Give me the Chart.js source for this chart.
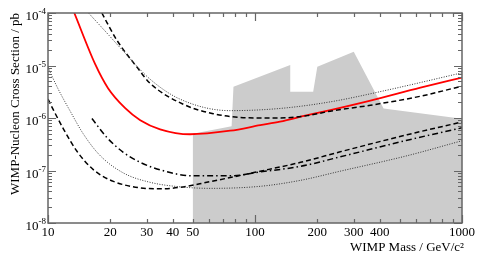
<!DOCTYPE html>
<html>
<head>
<meta charset="utf-8">
<script src="https://cdn.jsdelivr.net/npm/chart.js@4/dist/chart.umd.min.js"></script>
<style>
  html, body { margin: 0; padding: 0; background: #fff; }
</style>
</head>
<body>
<canvas id="chart" width="479" height="258"></canvas>
<script>
// axis ticks
const massTicks = [10, 20, 30, 40, 50, 100, 200, 300, 400, 1000];
const sigmaExps = [-8, -7, -6, -5, -4];

// excluded region (grey)
const greyMass  = [50, 77.1, 78.7, 148, 148, 191, 200, 300, 418, 1000];
const greySigma = [5.0e-7, 7.0e-7, 3.93e-6, 1.02e-5, 3.15e-6, 3.15e-6, 9.45e-6, 1.82e-5, 1.52e-6, 9.7e-7];

// red solid
const redMass  = [13.4, 16.9, 19.5, 23.6, 27.9, 34.8, 48.6, 75.9, 106, 132, 179, 231, 361, 630, 1000];
const redSigma = [1e-4, 1.06e-5, 3.7e-6, 1.54e-6, 9.1e-7, 6.1e-7, 4.9e-7, 5.73e-7, 7.3e-7, 8.5e-7, 1.13e-6, 1.41e-6, 2.14e-6, 3.78e-6, 5.87e-6];

// upper dotted
const dotHiMass  = [15.7, 19.2, 23.1, 31.1, 43.4, 75.9, 132, 231, 435, 1000];
const dotHiSigma = [1e-4, 4.2e-5, 1.88e-5, 5.5e-6, 2.29e-6, 1.38e-6, 1.52e-6, 2.03e-6, 3.4e-6, 7.26e-6];

// upper dashed
const dashHiMass  = [18.2, 21.5, 26.9, 31.1, 45.0, 62.8, 91.6, 132, 179, 231, 361, 630, 1000];
const dashHiSigma = [1e-4, 3.05e-5, 9.3e-6, 4.6e-6, 1.83e-6, 1.21e-6, 1.01e-6, 1.0e-6, 1.11e-6, 1.35e-6, 1.75e-6, 2.6e-6, 4.05e-6];

// dash-dot
const dashDotMass  = [16.3, 19.2, 23.1, 27.9, 34.8, 50.2, 75.9, 106, 166, 258, 543, 1000];
const dashDotSigma = [9.8e-7, 4.3e-7, 2.22e-7, 1.43e-7, 1.03e-7, 7.9e-8, 7.9e-8, 9.4e-8, 1.2e-7, 1.82e-7, 3.77e-7, 6.5e-7];

// lower dashed
const dashLoMass  = [10, 10.6, 11.9, 13.8, 16.6, 20.7, 27.9, 34.8, 43.4, 58.5, 106, 166, 258, 543, 1000];
const dashLoSigma = [2.29e-6, 1.44e-6, 6.1e-7, 2.32e-7, 1.03e-7, 6.2e-8, 4.68e-8, 4.48e-8, 4.78e-8, 5.96e-8, 9.7e-8, 1.43e-7, 2.27e-7, 4.8e-7, 8.4e-7];

// lower dotted
const dotLoMass  = [10, 10.4, 11.2, 12.8, 14.8, 17.8, 23.1, 31.1, 43.4, 60.7, 106, 166, 258, 543, 1000];
const dotLoSigma = [9.3e-6, 6.56e-6, 3.55e-6, 1.35e-6, 5.0e-7, 1.95e-7, 9.0e-8, 5.96e-8, 4.89e-8, 4.57e-8, 5.0e-8, 6.5e-8, 9.7e-8, 1.91e-7, 3.69e-7];

const pts = (xs, ys) => xs.map((x, i) => ({ x: x, y: ys[i] }));

const FONT = '"Liberation Serif", "DejaVu Serif", serif';

function curve(xs, ys, color, width, dash) {
    return {
        data: pts(xs, ys),
        borderColor: color,
        borderWidth: width,
        borderDash: dash,
        fill: false,
        pointRadius: 0,
        tension: 0.4,
        cubicInterpolationMode: 'monotone',
        order: 1
    };
}

// frame, inward ticks, labels and titles
const framePlugin = {
    id: 'frame',
    afterDraw(chart) {
        const ctx = chart.ctx;
        const a = chart.chartArea;
        const xs = chart.scales.x, ys = chart.scales.y;
        ctx.save();
        ctx.strokeStyle = '#666';
        ctx.lineWidth = 1.5;
        ctx.strokeRect(a.left, a.top, a.right - a.left, a.bottom - a.top);

        ctx.lineWidth = 1.2;
        ctx.beginPath();
        for (let k = 1; k <= 3; k++) {
            for (let n = 1; n <= 9; n++) {
                const v = n * Math.pow(10, k);
                if (v > 1000) break;
                const px = Math.round(xs.getPixelForValue(v)) + 0.5;
                const len = n === 1 ? 8 : 4;
                ctx.moveTo(px, a.bottom); ctx.lineTo(px, a.bottom - len);
                ctx.moveTo(px, a.top); ctx.lineTo(px, a.top + len);
            }
        }
        for (let k = -8; k <= -4; k++) {
            for (let n = 1; n <= 9; n++) {
                const v = n * Math.pow(10, k);
                if (v > 1.0001e-4) break;
                const py = Math.round(ys.getPixelForValue(v)) + 0.5;
                const len = n === 1 ? 8 : 4;
                ctx.moveTo(a.left, py); ctx.lineTo(a.left + len, py);
                ctx.moveTo(a.right, py); ctx.lineTo(a.right - len, py);
            }
        }
        ctx.stroke();

        ctx.fillStyle = '#000';
        ctx.font = '13px ' + FONT;
        ctx.textAlign = 'center';
        ctx.textBaseline = 'middle';
        massTicks.forEach(m => {
            ctx.fillText(String(m), xs.getPixelForValue(m), a.bottom + 10);
        });

        sigmaExps.forEach(e => {
            const py = ys.getPixelForValue(Math.pow(10, e));
            const exp = String(e);
            ctx.font = '9px ' + FONT;
            ctx.textAlign = 'right';
            const ew = ctx.measureText(exp).width;
            ctx.fillText(exp, a.left - 2, py - 1);
            ctx.font = '13px ' + FONT;
            ctx.fillText('10', a.left - 2 - ew, py + 4);
        });

        ctx.font = '13px ' + FONT;
        ctx.textAlign = 'right';
        ctx.fillText('WIMP Mass / GeV/c\u00b2', a.right + 2, a.bottom + 25);

        ctx.translate(16, a.top);
        ctx.rotate(-Math.PI / 2);
        ctx.textAlign = 'right';
        ctx.fillText('WIMP-Nucleon Cross Section / pb', 0, 0);
        ctx.restore();
    }
};

new Chart(document.getElementById('chart'), {
    type: 'line',
    data: {
        datasets: [
            {
                data: pts(greyMass, greySigma),
                borderColor: 'rgba(0,0,0,0)',
                backgroundColor: '#cccccc',
                borderWidth: 0,
                fill: 'start',
                pointRadius: 0,
                tension: 0,
                order: 10
            },
            curve(dotLoMass, dotLoSigma, '#333', 1, [1, 1.5]),
            curve(dashLoMass, dashLoSigma, '#000', 1.5, [5, 3]),
            curve(dashDotMass, dashDotSigma, '#000', 1.5, [6, 3, 1.5, 3]),
            curve(dotHiMass, dotHiSigma, '#333', 1, [1, 1.5]),
            curve(dashHiMass, dashHiSigma, '#000', 1.5, [5, 3]),
            curve(redMass, redSigma, '#ff0000', 1.8, [])
        ]
    },
    options: {
        responsive: false,
        animation: false,
        layout: { padding: { left: 48, right: 17, top: 13, bottom: 35 } },
        plugins: { legend: { display: false }, tooltip: { enabled: false } },
        scales: {
            x: { type: 'logarithmic', min: 10, max: 1000, display: false },
            y: { type: 'logarithmic', min: 1e-8, max: 1e-4, display: false }
        }
    },
    plugins: [framePlugin]
});
</script>
</body>
</html>
